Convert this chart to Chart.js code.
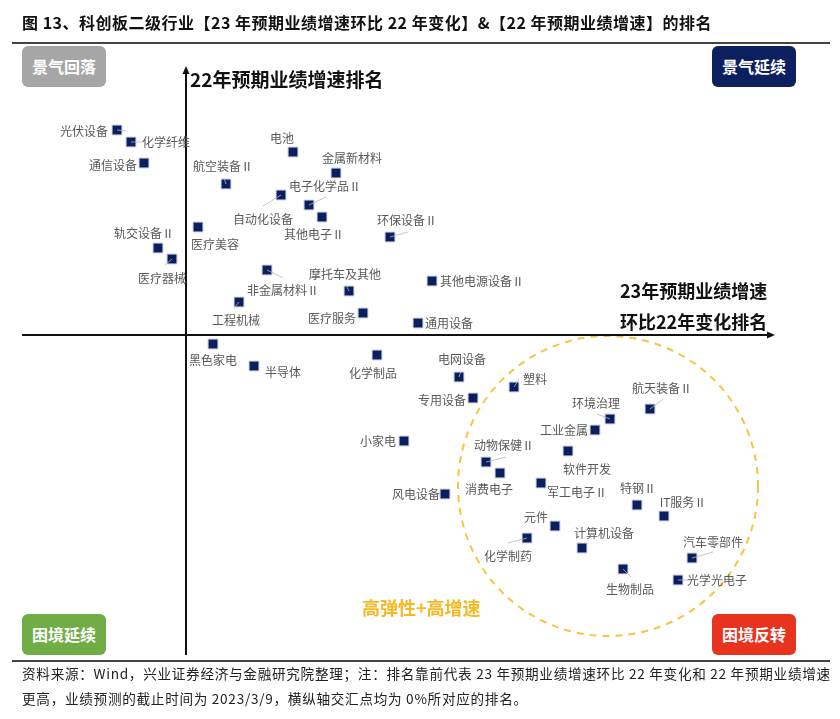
<!DOCTYPE html>
<html>
<head>
<meta charset="utf-8">
<script src="https://cdn.jsdelivr.net/npm/chart.js@4.4.1/dist/chart.umd.min.js"></script>
<style>
  body { margin: 0; background: #fff; font-family: "Noto Sans CJK SC", sans-serif; }
  #wrap { position: relative; width: 840px; height: 719px; overflow: hidden; }
  #chartCanvas { position: absolute; left: 0; top: 0; }
  .abs { position: absolute; white-space: nowrap; }
  .title { left: 22px; top: 10px; font-size: 16px; font-weight: bold; color: #111; letter-spacing: 0.5px; }
  .rule { position: absolute; left: 12px; width: 818px; height: 2px; background: #444; }
  .box { position: absolute; width: 84px; height: 41px; border-radius: 6px; color: #fff;
         font-size: 16px; font-weight: bold; line-height: 41px; text-align: center; }
  .axisTitle { font-size: 18px; font-weight: bold; color: #111; }
  .note { left: 22px; font-size: 13.6px; color: #222; letter-spacing: 0.72px; }
</style>
</head>
<body>
<div id="wrap">
  <canvas id="chartCanvas" width="840" height="719"></canvas>
  <div class="abs title">图 13、科创板二级行业【23 年预期业绩增速环比 22 年变化】&amp;【22 年预期业绩增速】的排名</div>
  <div class="rule" style="top:42px"></div>
  <div class="box" style="left:22px;top:46px;background:#a6a6a6">景气回落</div>
  <div class="box" style="left:712px;top:46px;background:#0c1f5e">景气延续</div>
  <div class="box" style="left:22px;top:614px;background:#70ad47">困境延续</div>
  <div class="box" style="left:712px;top:614px;background:#e8331f">困境反转</div>
  <div class="abs axisTitle" style="left:190px;top:65px;font-size:19px">22年预期业绩增速排名</div>
  <div class="abs axisTitle" style="left:620px;top:277px">23年预期业绩增速</div>
  <div class="abs axisTitle" style="left:620px;top:308px">环比22年变化排名</div>
  <div class="abs" style="left:362px;top:594px;font-size:18px;font-weight:bold;color:#f6b823">高弹性+高增速</div>
  <div class="rule" style="top:660px"></div>
  <div class="abs note" style="top:663px">资料来源：Wind，兴业证券经济与金融研究院整理；注：排名靠前代表 23 年预期业绩增速环比 22 年变化和 22 年预期业绩增速</div>
  <div class="abs note" style="top:688px">更高，业绩预测的截止时间为 2023/3/9，横纵轴交汇点均为 0%所对应的排名。</div>
</div>
<script>
// Industry names
const industries = [
  "光伏设备", "化学纤维", "通信设备", "电池", "金属新材料", "航空装备Ⅱ",
  "自动化设备", "电子化学品Ⅱ", "其他电子Ⅱ", "环保设备Ⅱ", "医疗美容", "轨交设备Ⅱ",
  "医疗器械", "非金属材料Ⅱ", "摩托车及其他", "工程机械", "医疗服务", "通用设备",
  "其他电源设备Ⅱ", "黑色家电", "半导体", "化学制品", "电网设备", "塑料",
  "专用设备", "小家电", "风电设备", "动物保健Ⅱ", "消费电子", "军工电子Ⅱ",
  "软件开发", "工业金属", "环境治理", "航天装备Ⅱ", "特钢Ⅱ", "IT服务Ⅱ",
  "元件", "化学制药", "计算机设备", "汽车零部件", "生物制品", "光学光电子"
];

// 23年预期业绩增速环比22年变化 (horizontal position, 0 = axis crossing)
const changeRank = [
  -6.9, -5.5, -4.2, 10.7, 15.0, 4.0,
  9.5, 12.3, 13.6, 20.4, 1.2, -2.8,
  -1.4, 8.1, 16.3, 5.3, 17.7, 23.2,
  24.6, 2.7, 6.8, 19.1, 27.3, 32.8,
  28.7, 21.8, 25.9, 30.0, 31.4, 35.5,
  38.2, 40.9, 42.4, 46.4, 45.1, 47.8,
  36.9, 34.1, 39.6, 50.6, 43.7, 49.2
];

// 22年预期业绩增速 (vertical position, 0 = axis crossing)
const growthRank = [
  20.5, 19.3, 17.2, 18.3, 16.2, 15.1,
  14.0, 13.0, 11.8, 9.8, 10.8, 8.7,
  7.6, 6.5, 4.4, 3.3, 2.2, 1.2,
  5.4, -0.9, -3.1, -2.0, -4.2, -5.2,
  -6.3, -10.6, -15.9, -12.7, -13.8, -14.8,
  -11.6, -9.5, -8.4, -7.4, -17.0, -18.1,
  -19.1, -20.3, -21.3, -22.3, -23.4, -24.5
];

// label offset from the marker, in pixels [dx, dy]
const labelOffsets = [
  [-33, 1], [35, 0], [-31, 2], [-11, -14], [16, -15], [-3, -18],
  [-18, 24], [16, -19], [-8, 17], [17, -17], [17, 17], [-14, -15],
  [-10, 19], [16, 20], [-4, -17], [-3, 18], [-31, 5], [31, 0],
  [50, 0], [0, 16], [29, 6], [-4, 18], [3, -18], [21, -8],
  [-31, 2], [-26, 0], [-29, 0], [18, -17], [-11, 16], [36, 9],
  [19, 18], [-31, 0], [-14, -16], [12, -21], [1, -17], [19, -14],
  [-19, -9], [-19, 18], [22, -15], [21, -16], [7, 20], [39, 0]
];

// thin leader lines, end point offset from the marker
const leaders = {
  "化学纤维": [12, 0], "光伏设备": [9, 1], "自动化设备": [-18, 11], "电子化学品Ⅱ": [17, -8],
  "环保设备Ⅱ": [18, -5], "医疗器械": [-7, 6], "非金属材料Ⅱ": [16, 8], "航空装备Ⅱ": [-2, -6],
  "摩托车及其他": [-3, -6], "工程机械": [-5, 6], "电网设备": [2, -6], "塑料": [5, -8],
  "动物保健Ⅱ": [20, -5], "环境治理": [-13, -5], "航天装备Ⅱ": [13, -10], "化学制药": [-19, 5],
  "汽车零部件": [21, -6], "生物制品": [8, 8], "光学光电子": [12, 0]
};

// dashed ring around the high-elasticity group
const ring = { x: 42.2, y: -15.1, r: 15.0 };

const points = industries.map((name, i) => ({ x: changeRank[i], y: growthRank[i] }));

const axesPlugin = {
  id: "axes",
  beforeDatasetsDraw(chart) {
    const { ctx, chartArea, scales } = chart;
    const x0 = scales.x.getPixelForValue(0);
    const y0 = scales.y.getPixelForValue(0);
    ctx.save();
    // ring
    const cx = scales.x.getPixelForValue(ring.x);
    const cy = scales.y.getPixelForValue(ring.y);
    const r = scales.x.getPixelForValue(ring.x + ring.r) - cx;
    ctx.strokeStyle = "#f7c443";
    ctx.lineWidth = 2;
    ctx.setLineDash([7, 6]);
    ctx.beginPath();
    ctx.arc(cx, cy, r, 0, Math.PI * 2);
    ctx.stroke();
    ctx.setLineDash([]);
    // axes
    ctx.strokeStyle = "#111";
    ctx.fillStyle = "#111";
    ctx.lineWidth = 2;
    ctx.beginPath();
    ctx.moveTo(x0, chartArea.bottom);
    ctx.lineTo(x0, chartArea.top + 4);
    ctx.moveTo(chartArea.left, y0);
    ctx.lineTo(chartArea.right - 4, y0);
    ctx.stroke();
    ctx.beginPath();
    ctx.moveTo(x0, chartArea.top);
    ctx.lineTo(x0 - 3.5, chartArea.top + 8);
    ctx.lineTo(x0 + 3.5, chartArea.top + 8);
    ctx.closePath();
    ctx.fill();
    ctx.beginPath();
    ctx.moveTo(chartArea.right, y0);
    ctx.lineTo(chartArea.right - 8, y0 - 3.5);
    ctx.lineTo(chartArea.right - 8, y0 + 3.5);
    ctx.closePath();
    ctx.fill();
    ctx.restore();
  },
  afterDatasetsDraw(chart) {
    const { ctx } = chart;
    const meta = chart.getDatasetMeta(0);
    ctx.save();
    ctx.font = '12px "Noto Sans CJK SC", sans-serif';
    ctx.fillStyle = "#595959";
    ctx.textAlign = "center";
    ctx.textBaseline = "middle";
    meta.data.forEach((pt, i) => {
      const name = industries[i];
      const off = labelOffsets[i];
      if (leaders[name]) {
        ctx.strokeStyle = "#b8b8b8";
        ctx.lineWidth = 0.8;
        ctx.beginPath();
        ctx.moveTo(pt.x, pt.y);
        ctx.lineTo(pt.x + leaders[name][0], pt.y + leaders[name][1]);
        ctx.stroke();
      }
      ctx.fillText(name, pt.x + off[0], pt.y + off[1]);
    });
    ctx.restore();
  },
};

const ctx = document.getElementById("chartCanvas").getContext("2d");
const chart = new Chart(ctx, {
  type: "scatter",
  data: {
    datasets: [
      {
        data: points,
        pointStyle: "rect",
        pointRadius: 7,
        pointHoverRadius: 7,
        backgroundColor: "#0b1f5e",
        borderColor: "#c9cfdf",
        borderWidth: 1,
      },
    ],
  },
  options: {
    responsive: false,
    animation: false,
    layout: { padding: { left: 22, right: 65, top: 66, bottom: 64 } },
    scales: {
      x: { type: "linear", min: -16.4, max: 58.9, display: false },
      y: { type: "linear", min: -32.0, max: 26.9, display: false },
    },
    plugins: {
      legend: { display: false },
      tooltip: { enabled: false },
    },
  },
  plugins: [axesPlugin],
});
</script>
</body>
</html>
